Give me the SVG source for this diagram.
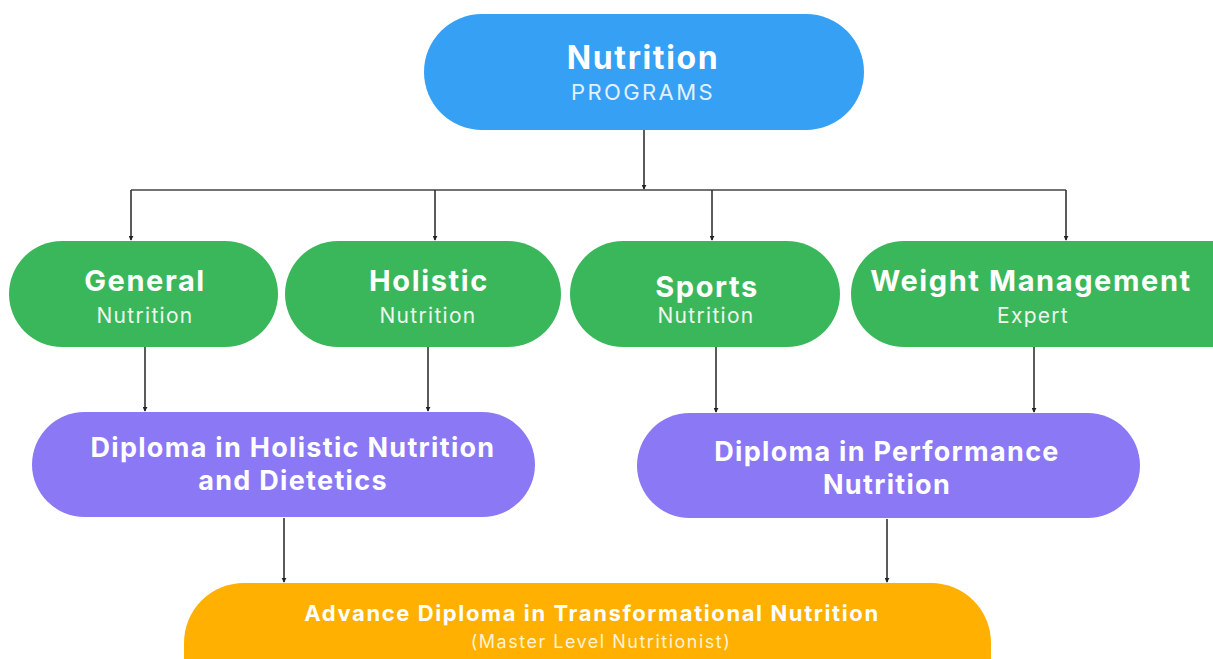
<svg xmlns="http://www.w3.org/2000/svg" width="1213" height="659" viewBox="0 0 1213 659">
<defs>
<style>
.t{font-family:Inter,"Liberation Sans",sans-serif;fill:#fff;text-anchor:middle}
.b{font-weight:700}
.s{font-weight:400;fill:#eef6ee}
.g{font-size:29px;letter-spacing:1.6px}
.gs{font-size:21px;letter-spacing:1.3px}
.p{font-size:27px;letter-spacing:1.3px}
.c{stroke:#333;stroke-width:1.6;fill:none;marker-end:url(#ah)}
.h{stroke:#444;stroke-width:1.6;fill:none}
</style>
<marker id="ah" viewBox="0 0 6 6" refX="5" refY="3" markerWidth="5" markerHeight="5" markerUnits="userSpaceOnUse" orient="auto">
<path d="M0,0 L6,3 L0,6 Z" fill="#222"/>
</marker>
</defs>
<rect width="1213" height="659" fill="#fff"/>
<g id="connectors">
<path class="c" d="M644,130 V189"/>
<path class="h" d="M131,190 H1066"/>
<path class="c" d="M131,190 V240"/>
<path class="c" d="M435,190 V240"/>
<path class="c" d="M712,190 V240"/>
<path class="c" d="M1066,190 V240"/>
<path class="c" d="M145,347 V411"/>
<path class="c" d="M428,347 V411"/>
<path class="c" d="M716,347 V412"/>
<path class="c" d="M1034,347 V412"/>
<path class="c" d="M284,518 V582"/>
<path class="c" d="M887,519 V582"/>
</g>
<g id="root">
<rect x="424" y="14" width="440" height="116" rx="58" fill="#36A0F4"/>
<text class="t b" x="643" y="69" font-size="32" letter-spacing="1.6">Nutrition</text>
<text class="t s" x="643" y="100" font-size="22" letter-spacing="2.4" style="fill:#e3f1fd">PROGRAMS</text>
</g>
<g id="general">
<rect x="9" y="241" width="269" height="106" rx="53" fill="#3BB75B"/>
<text class="t b g" x="145" y="291">General</text>
<text class="t s gs" x="145" y="323">Nutrition</text>
</g>
<g id="holistic">
<rect x="285" y="241" width="276" height="106" rx="53" fill="#3BB75B"/>
<text class="t b g" x="429" y="291">Holistic</text>
<text class="t s gs" x="428" y="323">Nutrition</text>
</g>
<g id="sports">
<rect x="570" y="241" width="270" height="106" rx="53" fill="#3BB75B"/>
<text class="t b g" x="707" y="297">Sports</text>
<text class="t s gs" x="706" y="323">Nutrition</text>
</g>
<g id="weight">
<rect x="851" y="241" width="420" height="106" rx="53" fill="#3BB75B"/>
<text class="t b g" x="1031" y="291">Weight Management</text>
<text class="t s gs" x="1033" y="323">Expert</text>
</g>
<g id="diploma-holistic">
<rect x="32" y="412" width="503" height="105" rx="52.5" fill="#8B78F5"/>
<text class="t b p" x="293" y="457">Diploma in Holistic Nutrition</text>
<text class="t b p" x="293" y="490">and Dietetics</text>
</g>
<g id="diploma-performance">
<rect x="637" y="413" width="503" height="105" rx="52.5" fill="#8B78F5"/>
<text class="t b p" x="887" y="461">Diploma in Performance</text>
<text class="t b p" x="887" y="494">Nutrition</text>
</g>
<g id="advance">
<rect x="184" y="583" width="807" height="140" rx="60" fill="#FFB000"/>
<text class="t b" x="592" y="621" font-size="22" letter-spacing="1.6">Advance Diploma in Transformational Nutrition</text>
<text class="t s" x="601" y="648" font-size="18" letter-spacing="1.5" style="fill:#fff3d6">(Master Level Nutritionist)</text>
</g>
</svg>
